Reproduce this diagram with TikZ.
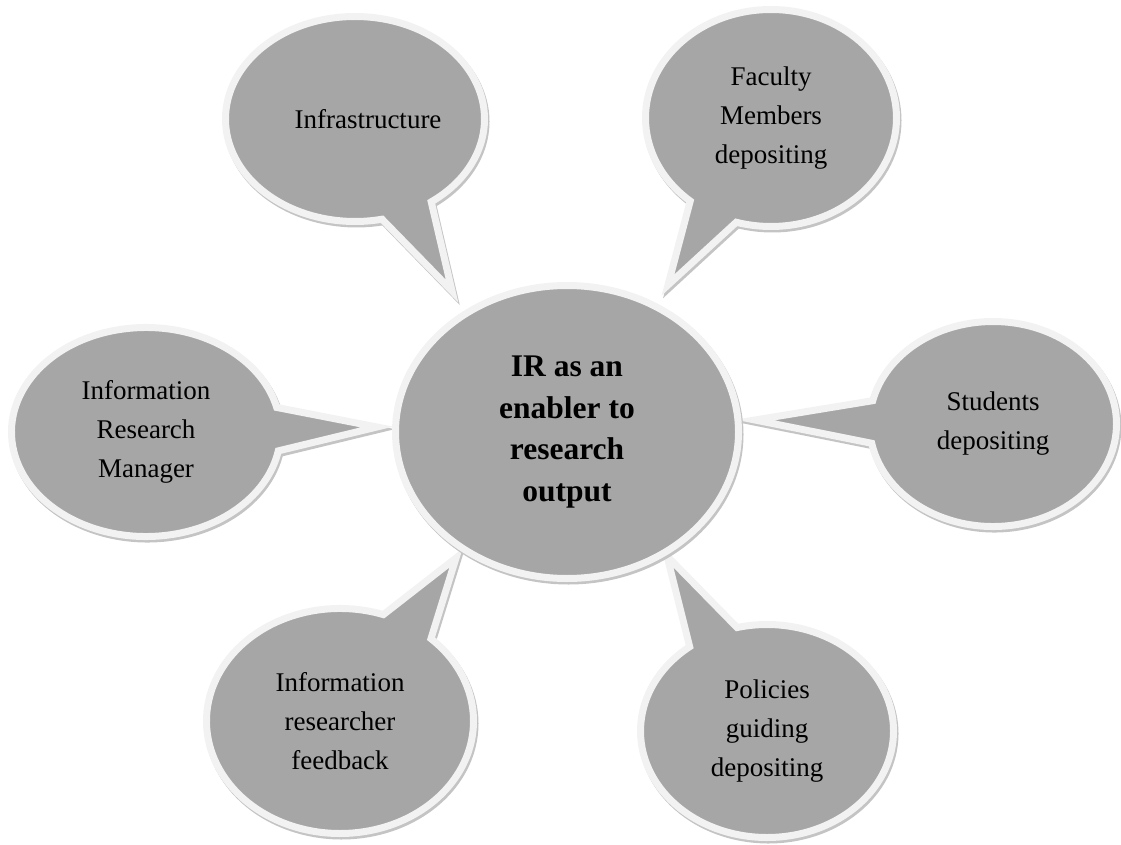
\documentclass[tikz,border=0pt]{standalone}
\usepackage{fontspec}
\setmainfont{Liberation Serif}
\usetikzlibrary{shapes.callouts,shapes.geometric,shadows}
\definecolor{bubblefill}{HTML}{A6A6A6}
\definecolor{bubbleedge}{HTML}{F2F2F2}
\definecolor{shadowgray}{HTML}{C4C4C4}
\begin{document}
\begin{tikzpicture}[x=1pt,y=-1pt,
  softshadow/.style={drop shadow={shadow xshift=1.5pt, shadow yshift=-2.5pt, opacity=1, fill=shadowgray, draw=shadowgray, line width=7pt}},
  bubble/.style={ellipse callout, draw=bubbleedge, line width=7pt, fill=bubblefill,
    inner sep=0pt, align=center, text=black, line join=miter,
    font=\fontsize{27}{39}\selectfont, callout pointer arc=24, softshadow},
  hub/.style={ellipse, draw=bubbleedge, line width=7pt, fill=bubblefill,
    inner sep=0pt, align=center, text=black,
    font=\fontsize{31.5}{41.5}\selectfont\bfseries, softshadow}]
\useasboundingbox (0,0) rectangle (1121,845);

\node[bubble, minimum width=259pt, minimum height=205pt,
  callout absolute pointer={(452,291)}] (infra) at (355,119) {\hspace*{26pt}Infrastructure};
\node[bubble, minimum width=251pt, minimum height=217pt,
  callout absolute pointer={(668,285)}] (faculty) at (771,118) {Faculty\\Members\\depositing};
\node[bubble, minimum width=269pt, minimum height=209pt,
  callout absolute pointer={(377,427)}] (irm) at (146,432) {Information\\Research\\Manager};
\node[bubble, minimum width=247pt, minimum height=205pt,
  callout absolute pointer={(755,420)}] (students) at (993,424) {Students\\depositing};
\node[bubble, minimum width=267pt, minimum height=225pt,
  callout absolute pointer={(456,558)}] (feedback) at (340,721) {Information\\researcher\\feedback};
\node[bubble, minimum width=253pt, minimum height=213pt,
  callout absolute pointer={(667,556)}] (policies) at (767,731) {Policies\\guiding\\depositing};

\node[hub, minimum width=343pt, minimum height=293pt] (hub) at (567,432)
  {IR as an\\enabler to\\research\\output};
\end{tikzpicture}
\end{document}
